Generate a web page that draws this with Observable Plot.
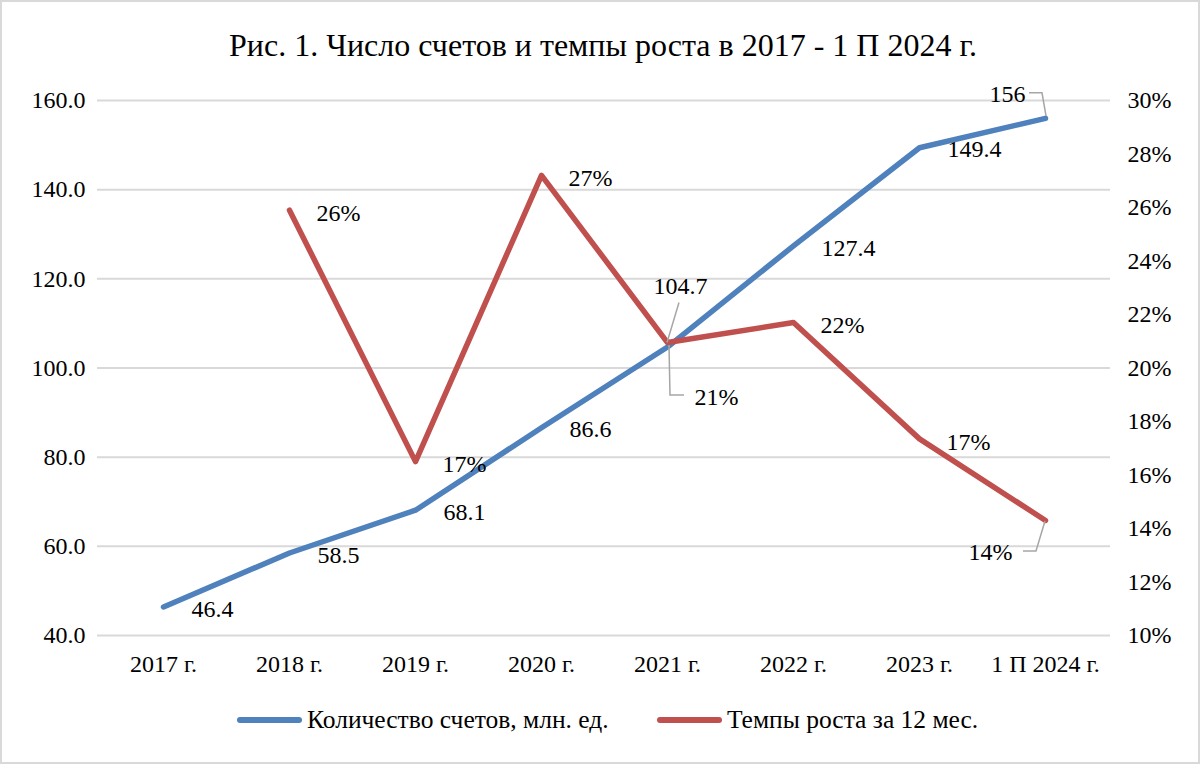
<!DOCTYPE html>
<html>
<head>
<meta charset="utf-8">
<script src="https://cdn.jsdelivr.net/npm/d3@7"></script>
<script src="https://cdn.jsdelivr.net/npm/@observablehq/plot@0.6"></script>
<style>
  body { margin: 0; background: #fff; }
  #wrap { position: relative; width: 1200px; height: 764px; background: #fff; overflow: hidden; font-family: "Liberation Serif", "Times New Roman", serif; color: #000; }
  #frame { position: absolute; left: 0; top: 0; right: 0; bottom: 0; border: 2px solid #d9d9d9; box-sizing: border-box; pointer-events: none; }
  #title { position: absolute; left: 3px; width: 1200px; top: 25px; text-align: center; font-size: 32px; line-height: 40px; white-space: nowrap; }
  #chart { position: absolute; left: 0; top: 80px; }
  #chart svg, #chart svg text { font-family: "Liberation Serif", "Times New Roman", serif !important; }
  #legend { position: absolute; left: 0; top: 705px; width: 1200px; height: 30px; }
  .item { position: absolute; top: 0; height: 30px; display: flex; align-items: center; font-size: 25.5px; white-space: nowrap; }
  .sw { display: inline-block; width: 65px; height: 6px; border-radius: 3px; margin-right: 5px; }
</style>
</head>
<body>
<div id="wrap">
  <div id="title">Рис. 1. Число счетов и темпы роста в 2017 - 1 П 2024 г.</div>
  <div id="chart"></div>
  <div id="legend"></div>
  <div id="frame"></div>
</div>
<script>
// ---- data ----
const categories = ["2017 г.", "2018 г.", "2019 г.", "2020 г.", "2021 г.", "2022 г.", "2023 г.", "1 П 2024 г."];
const accounts = [46.4, 58.5, 68.1, 86.6, 104.7, 127.4, 149.4, 156];
const growthCategories = ["2018 г.", "2019 г.", "2020 г.", "2021 г.", "2022 г.", "2023 г.", "1 П 2024 г."];
const growth = [25.9, 16.5, 27.2, 20.95, 21.7, 17.35, 14.3];
const leftTicks = [40, 60, 80, 100, 120, 140, 160];
const rightTicks = [10, 12, 14, 16, 18, 20, 22, 24, 26, 28, 30];
const seriesNames = ["Количество счетов, млн. ед.", "Темпы роста за 12 мес."];

const BLUE = "#4f81bd", RED = "#c0504d", GRID = "#d9d9d9", LEADER = "#a6a6a6";

// right axis (%) mapped onto left axis domain
const toLeft = p => 40 + (p - 10) * 6;
const fromLeft = v => (v - 40) / 6 + 10;

const blueData = categories.map((c, i) => ({ cat: c, v: accounts[i], label: accounts[i] % 1 ? accounts[i].toFixed(1) : String(accounts[i]) }));
const redData = growthCategories.map((c, i) => ({ cat: c, p: growth[i], v: toLeft(growth[i]), label: Math.round(growth[i]) + "%" }));

// labels with leader lines get individual placement
const leaderCats = ["2021 г.", "1 П 2024 г."];
const blueNormal = blueData.filter(d => !leaderCats.includes(d.cat));
const redNormal = redData.filter(d => !leaderCats.includes(d.cat));
const blue2021 = blueData.filter(d => d.cat === "2021 г.");
const blue2024 = blueData.filter(d => d.cat === "1 П 2024 г.");
const red2021 = redData.filter(d => d.cat === "2021 г.");
const red2024 = redData.filter(d => d.cat === "1 П 2024 г.");

const leaderPaths = [
  { data: blue2021[0], pts: [[12, -44], [0, -4]] },
  { data: red2021[0], pts: [[2, 3], [3, 53], [17, 53]] },
  { data: blue2024[0], pts: [[-16, -25], [-3, -25], [1, -2]] },
  { data: red2024[0], pts: [[0, 1], [-9, 31], [-22, 31]] }
];

const font = { fontSize: 24, fill: "#000" };

const chart = Plot.plot({
  width: 1200,
  height: 610,
  marginLeft: 97,
  marginRight: 90,
  marginTop: 20,
  marginBottom: 55,
  style: { fontFamily: "'Liberation Serif', 'Times New Roman', serif", fontSize: "24px", color: "#000", background: "transparent", overflow: "visible" },
  x: { type: "point", domain: categories, padding: 0.5, label: null },
  y: { domain: [40, 160], label: null },
  marks: [
    Plot.gridY(leftTicks, { stroke: GRID, strokeOpacity: 1, strokeWidth: 2 }),
    Plot.axisX({ tickSize: 0, tickPadding: 19, label: null, fontSize: 24 }),
    Plot.axisY(leftTicks, { anchor: "left", tickSize: 0, tickPadding: 12, tickFormat: d => d.toFixed(1), label: null, fontSize: 24 }),
    Plot.axisY(rightTicks.map(toLeft), { anchor: "right", tickSize: 0, tickPadding: 17, tickFormat: d => Math.round(fromLeft(d)) + "%", label: null, fontSize: 24 }),
    Plot.line(blueData, { x: "cat", y: "v", stroke: BLUE, strokeWidth: 5.5, strokeLinejoin: "round", strokeLinecap: "round" }),
    Plot.line(redData, { x: "cat", y: "v", stroke: RED, strokeWidth: 5.5, strokeLinejoin: "round", strokeLinecap: "round" }),
    // leader lines
    (index, scales) => {
      const g = d3.create("svg:g").attr("fill", "none").attr("stroke", LEADER).attr("stroke-width", 1.5);
      for (const l of leaderPaths) {
        const px = scales.x(l.data.cat), py = scales.y(l.data.v);
        g.append("path").attr("d", d3.line()(l.pts.map(([dx, dy]) => [px + dx, py + dy])));
      }
      return g.node();
    },
    Plot.text(blueNormal, { x: "cat", y: "v", text: "label", textAnchor: "start", dx: 28, dy: 2, ...font }),
    Plot.text(redNormal, { x: "cat", y: "v", text: "label", textAnchor: "start", dx: 27, dy: 3, ...font }),
    Plot.text(blue2021, { x: "cat", y: "v", text: "label", textAnchor: "middle", dx: 13, dy: -61, ...font }),
    Plot.text(red2021, { x: "cat", y: "v", text: "label", textAnchor: "start", dx: 27, dy: 55, ...font }),
    Plot.text(blue2024, { x: "cat", y: "v", text: "label", textAnchor: "end", dx: -20, dy: -24, ...font }),
    Plot.text(red2024, { x: "cat", y: "v", text: "label", textAnchor: "end", dx: -33, dy: 32, ...font })
  ]
});
document.getElementById("chart").appendChild(chart);

// legend
const legend = document.getElementById("legend");
const legendPos = [237, 657];
[BLUE, RED].forEach((c, i) => {
  const item = document.createElement("div");
  item.className = "item";
  item.style.left = legendPos[i] + "px";
  const sw = document.createElement("span");
  sw.className = "sw";
  sw.style.background = c;
  const t = document.createElement("span");
  t.textContent = seriesNames[i];
  item.appendChild(sw);
  item.appendChild(t);
  legend.appendChild(item);
});
</script>
</body>
</html>
